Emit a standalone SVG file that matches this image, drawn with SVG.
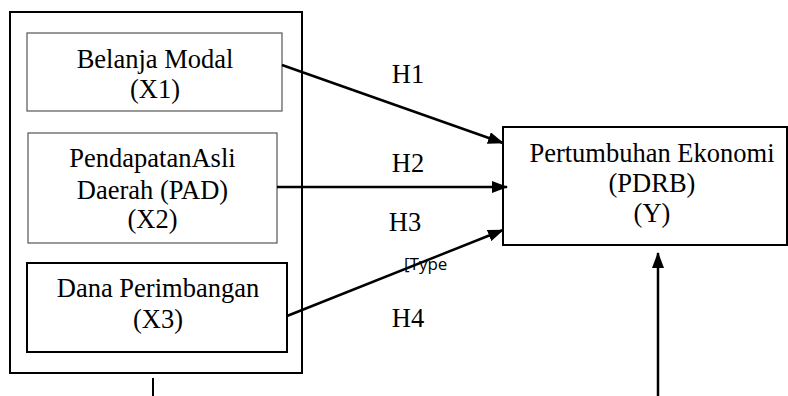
<svg xmlns="http://www.w3.org/2000/svg" width="788" height="396" viewBox="0 0 788 396">
<style>
  .t { font-family: "Liberation Serif", "Times New Roman", serif; font-size: 26.5px; fill: #000; text-anchor: middle; }
  .s { font-family: "Open Sans", "Liberation Sans", sans-serif; font-size: 17px; fill: #000; }
  .thin { fill: #fff; stroke: #555; stroke-width: 1.2; }
  .thick { fill: #fff; stroke: #000; stroke-width: 2; }
  .conn { stroke: #000; stroke-width: 2.5; fill: none; }
</style>
<defs>
  <marker id="ah" markerWidth="16" markerHeight="12" refX="15" refY="6" orient="auto" markerUnits="userSpaceOnUse">
    <path d="M0,0 L16,6 L0,12 Z" fill="#000"/>
  </marker>
</defs>
<rect width="788" height="396" fill="#fff"/>
<g id="outer">
  <rect class="thick" x="10" y="12" width="292" height="361" fill="none"/>
</g>
<g id="x1">
  <rect class="thin" x="27" y="33" width="255" height="78"/>
  <text class="t" x="155" y="68">Belanja Modal</text>
  <text class="t" x="155" y="98">(X1)</text>
</g>
<g id="x2">
  <rect class="thin" x="28" y="133" width="249" height="110"/>
  <text class="t" x="152.5" y="167">PendapatanAsli</text>
  <text class="t" x="152.5" y="199">Daerah (PAD)</text>
  <text class="t" x="152.5" y="228">(X2)</text>
</g>
<g id="x3">
  <rect class="thick" x="27" y="263" width="260" height="89"/>
  <text class="t" x="158" y="297">Dana Perimbangan</text>
  <text class="t" x="158" y="328">(X3)</text>
</g>
<g id="y">
  <rect class="thick" x="503" y="127" width="284" height="118"/>
  <text class="t" x="652" y="162">Pertumbuhan Ekonomi</text>
  <text class="t" x="652" y="192">(PDRB)</text>
  <text class="t" x="652" y="222">(Y)</text>
</g>
<g id="connectors">
  <line class="conn" x1="282" y1="65" x2="503" y2="143" marker-end="url(#ah)"/>
  <line class="conn" x1="277" y1="187" x2="507" y2="187" marker-end="url(#ah)"/>
  <line class="conn" x1="287" y1="316" x2="503" y2="230" marker-end="url(#ah)"/>
  <line class="conn" x1="658" y1="396" x2="658" y2="253" marker-end="url(#ah)"/>
  <line stroke="#000" stroke-width="2" x1="153" y1="378" x2="153" y2="396"/>
</g>
<g id="labels">
  <text class="t" x="408" y="83">H1</text>
  <text class="t" x="408" y="172">H2</text>
  <text class="t" x="405" y="231">H3</text>
  <text class="t" x="408" y="327">H4</text>
  <text class="s" x="404" y="270">[Type</text>
</g>
</svg>
